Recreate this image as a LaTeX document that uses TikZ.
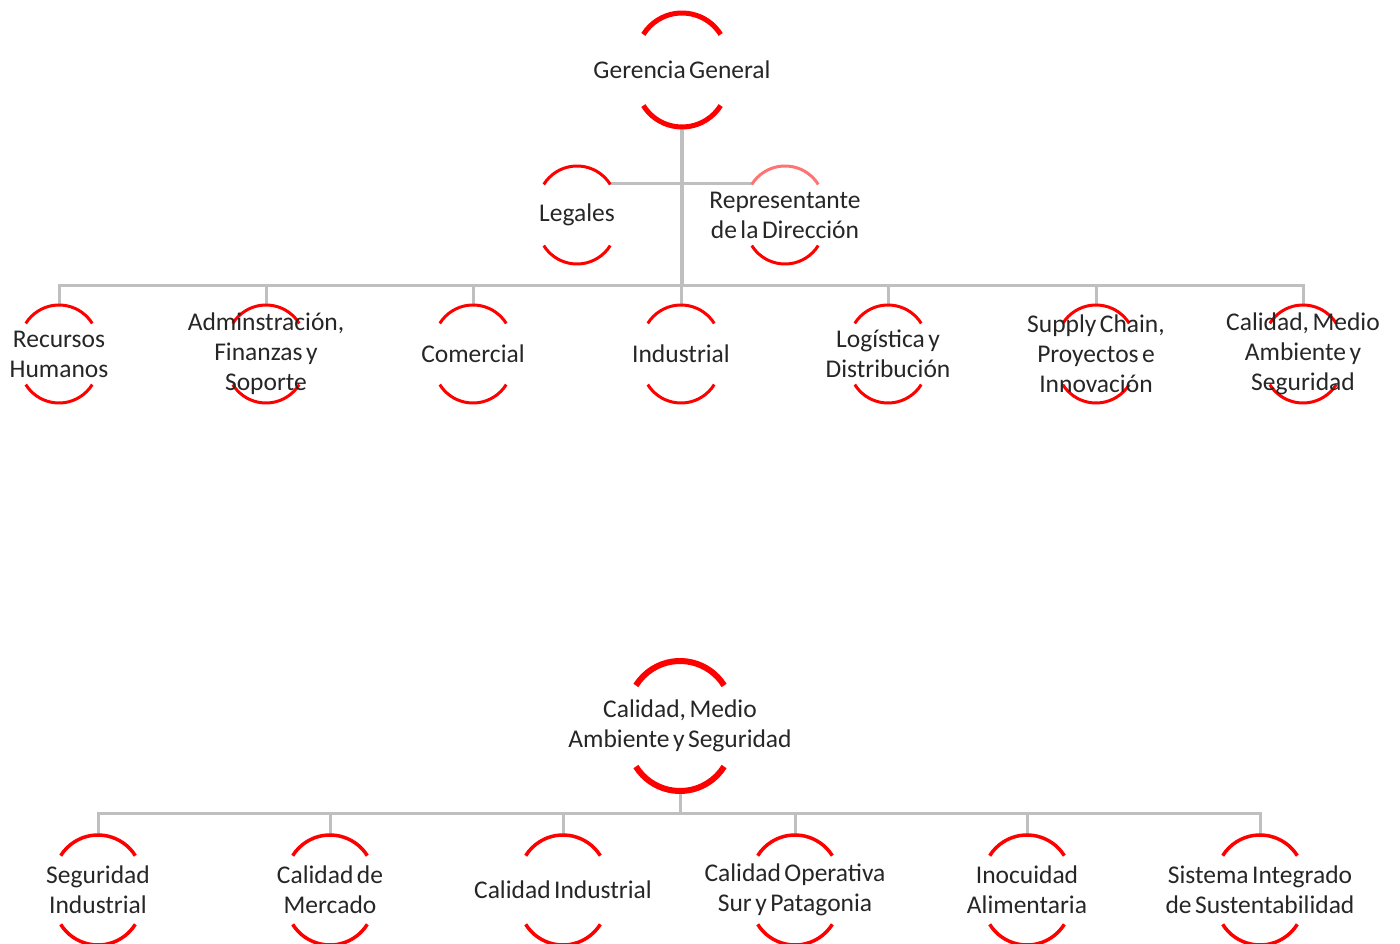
\documentclass[tikz,border=0pt]{standalone}
\usepackage{fontspec}
\setmainfont{Carlito}[WordSpace=0.6]
\usetikzlibrary{calc}
\definecolor{arcred}{RGB}{255,0,0}
\definecolor{linkgray}{RGB}{191,191,191}
\definecolor{textgray}{RGB}{38,38,38}
\newcommand\orgfont{\fontsize{25.5}{30}\selectfont}
\pgfdeclarelayer{back}
\pgfsetlayers{back,main}
% top and bottom arcs of a ring node: name, size, width, top colour
\newcommand\ringarcs[4]{%
  \draw[#4,line width=#3] ($(#1.center)+(0,0.2*#2)$) ++(32:0.8*#2pt) arc[start angle=32,end angle=148,radius=0.8*#2pt];
  \draw[arcred,line width=#3] ($(#1.center)+(0,-0.2*#2)$) ++(212:0.8*#2pt) arc[start angle=212,end angle=328,radius=0.8*#2pt];
}

\begin{document}
\begin{tikzpicture}[x=1pt,y=1pt,ring/.style={circle,minimum size=2*#1pt,inner sep=0pt},lbl/.style={align=center,text=textgray,font=\orgfont,inner sep=0pt},link/.style={draw=linkgray,line width=3pt}]
\useasboundingbox (0,0) rectangle (1400,-944);

\node[ring=57,label={[lbl]center:Gerencia General}] (gg) at (682,-70) {};
\node[ring=49,label={[lbl]center:Legales}] (leg) at (577,-215) {};
\node[ring=49,label={[lbl]center:{Representante\\de la Dirección}}] (rep) at (785,-215) {};
\node[ring=49,label={[lbl]center:{Recursos\\Humanos}}] (rh) at (59,-354) {};
\node[ring=49,label={[lbl]center:{Adminstración,\\Finanzas y\\Soporte}}] (afs) at (266,-354) {};
\node[ring=49,label={[lbl]center:Comercial}] (com) at (473,-354) {};
\node[ring=49,label={[lbl]center:Industrial}] (ind) at (681,-354) {};
\node[ring=49,label={[lbl]center:{Logística y\\Distribución}}] (log) at (888,-354) {};
\node[ring=49,label={[lbl]center:{Supply Chain,\\Proyectos e\\Innovación}}] (scp) at (1096,-354) {};
\node[ring=49,label={[lbl]center:{Calidad, Medio\\Ambiente y\\Seguridad}}] (cmas) at (1303,-354) {};
\coordinate (bus) at (682,-285);

\node[ring=65,label={[lbl]center:{Calidad, Medio\\Ambiente y Seguridad}}] (cmasb) at (680,-726) {};
\node[ring=55,label={[lbl]center:{Seguridad\\Industrial}}] (si) at (98,-890) {};
\node[ring=55,label={[lbl]center:{Calidad de\\Mercado}}] (cm) at (330,-890) {};
\node[ring=55,label={[lbl]center:Calidad Industrial}] (ci) at (563,-890) {};
\node[ring=55,label={[lbl]center:{Calidad Operativa\\Sur y Patagonia}}] (cosp) at (795,-890) {};
\node[ring=55,label={[lbl]center:{Inocuidad\\Alimentaria}}] (ia) at (1027,-890) {};
\node[ring=55,label={[lbl]center:{Sistema Integrado\\de Sustentabilidad}}] (sis) at (1260,-890) {};
\coordinate (busb) at (680,-813);

\begin{pgfonlayer}{back}
\draw[link,line width=3.5pt] (gg.south) -- (bus);
\draw[link] ($(leg.center)+(33,31)$) -- ($(rep.center)+(-33,31)$);
\foreach \n in {rh,afs,com,ind,log,scp,cmas} \draw[link] (\n.north) |- (bus);
\draw[link] (cmasb.south) -- (busb);
\foreach \n in {si,cm,ci,cosp,ia,sis} \draw[link] (\n.north) |- (busb);

\ringarcs{gg}{57}{5pt}{arcred}
\ringarcs{leg}{49}{3pt}{arcred}
\ringarcs{rep}{49}{3pt}{arcred!55}
\foreach \n in {rh,afs,com,ind,log,scp,cmas} {\ringarcs{\n}{49}{3pt}{arcred}}
\ringarcs{cmasb}{65}{6pt}{arcred}
\foreach \n in {si,cm,ci,cosp,ia,sis} {\ringarcs{\n}{55}{3.5pt}{arcred}}
\end{pgfonlayer}
\end{tikzpicture}
\end{document}
